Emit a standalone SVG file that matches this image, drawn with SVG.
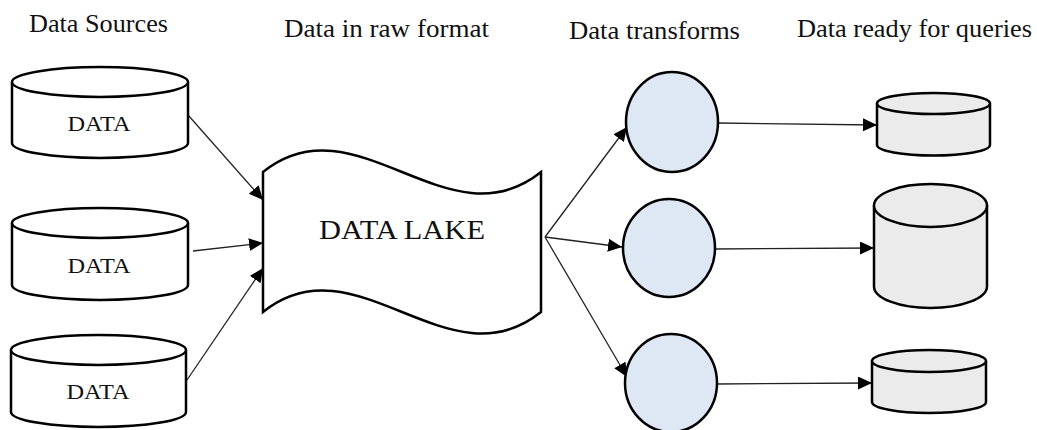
<svg xmlns="http://www.w3.org/2000/svg" width="1037" height="430" viewBox="0 0 1037 430">
<style>
.hdr{font-family:"Liberation Serif","Times New Roman",serif;font-size:25px;fill:#111}
.lbl{font-family:"Liberation Serif","Times New Roman",serif;font-size:21px;fill:#111;text-anchor:middle}
.src{fill:#fff;stroke:#000;stroke-width:2.5}
.tgt{fill:#ebebeb;stroke:#000;stroke-width:2.5}
.proc{fill:#dee8f5;stroke:#000;stroke-width:2.5}
.lake{fill:#fff;stroke:#000;stroke-width:2.5;stroke-linejoin:miter}
.conn line{stroke:#222;stroke-width:1.3;marker-end:url(#ah)}
</style>
<defs>
<marker id="ah" markerUnits="userSpaceOnUse" markerWidth="16" markerHeight="14" refX="14" refY="6.5" orient="auto">
<path d="M0,0 L14,6.5 L0,13 z" fill="#000"/>
</marker>
</defs>
<rect width="1037" height="430" fill="#fff"/>
<g id="headers">
<text class="hdr" x="29" y="32" textLength="139" lengthAdjust="spacingAndGlyphs">Data Sources</text>
<text class="hdr" x="284" y="37" textLength="205" lengthAdjust="spacingAndGlyphs">Data in raw format</text>
<text class="hdr" x="569" y="39" textLength="171" lengthAdjust="spacingAndGlyphs">Data transforms</text>
<text class="hdr" x="797" y="37" textLength="235" lengthAdjust="spacingAndGlyphs">Data ready for queries</text>
</g>
<g id="connectors" class="conn">
<line x1="188" y1="115" x2="263" y2="200"/>
<line x1="193" y1="251" x2="263" y2="243"/>
<line x1="187" y1="380" x2="263" y2="268"/>
<line x1="545" y1="237" x2="627" y2="127"/>
<line x1="545" y1="237" x2="622" y2="247"/>
<line x1="545" y1="237" x2="627" y2="377"/>
<line x1="718" y1="123" x2="877" y2="125"/>
<line x1="715" y1="249" x2="874" y2="248"/>
<line x1="716" y1="384" x2="872" y2="383"/>
</g>
<g id="source1">
<path class="src" d="M12,82 V143 A88,15 0 0 0 188,143 V82"/>
<ellipse class="src" cx="100" cy="82" rx="88" ry="15"/>
<text class="lbl" x="99" y="131" textLength="63" lengthAdjust="spacingAndGlyphs">DATA</text>
</g>
<g id="source2">
<path class="src" d="M12,223 V285 A88,15 0 0 0 188,285 V223"/>
<ellipse class="src" cx="100" cy="223" rx="88" ry="15"/>
<text class="lbl" x="99" y="273" textLength="63" lengthAdjust="spacingAndGlyphs">DATA</text>
</g>
<g id="source3">
<path class="src" d="M11,350 V412 A87.5,15 0 0 0 186,412 V350"/>
<ellipse class="src" cx="98.5" cy="350" rx="87.5" ry="15"/>
<text class="lbl" x="98" y="399" textLength="63" lengthAdjust="spacingAndGlyphs">DATA</text>
</g>
<g id="datalake">
<path class="lake" d="M263,172 C355.7,97.5 448.3,246.5 541,172 L541,312 C448.3,386.5 355.7,237.5 263,312 Z"/>
<text x="402" y="239" text-anchor="middle" font-family="'Liberation Serif','Times New Roman',serif" font-size="28" fill="#111" textLength="166" lengthAdjust="spacingAndGlyphs">DATA LAKE</text>
</g>
<g id="transform1"><ellipse class="proc" cx="672" cy="122" rx="46" ry="50"/></g>
<g id="transform2"><ellipse class="proc" cx="669" cy="248" rx="46" ry="49"/></g>
<g id="transform3"><ellipse class="proc" cx="671" cy="383" rx="46" ry="49"/></g>
<g id="target1">
<path class="tgt" d="M877,103.5 V145 A56.5,10.5 0 0 0 990,145 V103.5"/>
<ellipse class="tgt" cx="933.5" cy="103.5" rx="56.5" ry="10.5"/>
</g>
<g id="target2">
<path class="tgt" d="M874,205.5 V286.5 A56.5,21.5 0 0 0 987,286.5 V205.5"/>
<ellipse class="tgt" cx="930.5" cy="205.5" rx="56.5" ry="21.5"/>
</g>
<g id="target3">
<path class="tgt" d="M872,361 V402 A57,11 0 0 0 986,402 V361"/>
<ellipse class="tgt" cx="929" cy="361" rx="57" ry="11"/>
</g>
</svg>
